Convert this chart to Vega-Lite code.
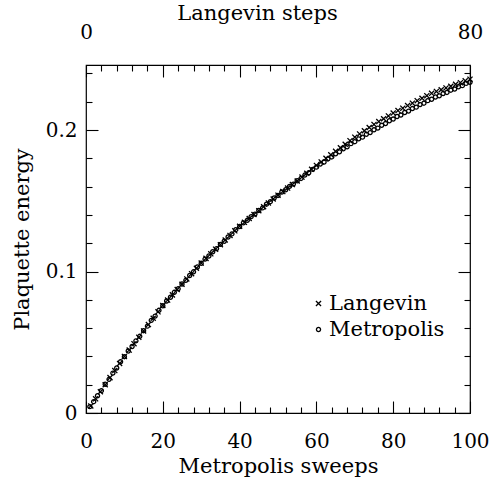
{
  "$schema": "https://vega.github.io/schema/vega-lite/v6.json",
  "width": 384,
  "height": 348,
  "autosize": "none",
  "padding": {"left": 86, "top": 65, "right": 20, "bottom": 67},
  "background": "white",
  "config": {
    "view": {"stroke": "black", "strokeWidth": 1.2},
    "axis": {
      "grid": false,
      "domain": false,
      "ticks": true,
      "tickColor": "black",
      "tickWidth": 1.1,
      "labelColor": "black",
      "labelFont": "DejaVu Serif",
      "labelFontSize": 20,
      "labelFlush": false,
      "labelOverlap": false,
      "labelBound": false,
      "titleColor": "black",
      "titleFont": "DejaVu Serif",
      "titleFontSize": 21,
      "titleFontWeight": "normal",
      "titleBaseline": "middle",
      "titleAlign": "center"
    },
    "legend": {
      "labelFont": "DejaVu Serif",
      "labelFontSize": 21,
      "labelColor": "black"
    }
  },
  "datasets": {
    "pts": [
      {"series": "Metropolis", "sweeps": 1, "energy": 0.0045},
      {"series": "Metropolis", "sweeps": 2, "energy": 0.0080},
      {"series": "Metropolis", "sweeps": 3, "energy": 0.0122},
      {"series": "Metropolis", "sweeps": 4, "energy": 0.0158},
      {"series": "Metropolis", "sweeps": 5, "energy": 0.0203},
      {"series": "Metropolis", "sweeps": 6, "energy": 0.0238},
      {"series": "Metropolis", "sweeps": 7, "energy": 0.0282},
      {"series": "Metropolis", "sweeps": 8, "energy": 0.0318},
      {"series": "Metropolis", "sweeps": 9, "energy": 0.0362},
      {"series": "Metropolis", "sweeps": 10, "energy": 0.0398},
      {"series": "Metropolis", "sweeps": 11, "energy": 0.0438},
      {"series": "Metropolis", "sweeps": 12, "energy": 0.0470},
      {"series": "Metropolis", "sweeps": 13, "energy": 0.0510},
      {"series": "Metropolis", "sweeps": 14, "energy": 0.0542},
      {"series": "Metropolis", "sweeps": 15, "energy": 0.0582},
      {"series": "Metropolis", "sweeps": 16, "energy": 0.0614},
      {"series": "Metropolis", "sweeps": 17, "energy": 0.0655},
      {"series": "Metropolis", "sweeps": 18, "energy": 0.0685},
      {"series": "Metropolis", "sweeps": 19, "energy": 0.0726},
      {"series": "Metropolis", "sweeps": 20, "energy": 0.0758},
      {"series": "Metropolis", "sweeps": 21, "energy": 0.0792},
      {"series": "Metropolis", "sweeps": 22, "energy": 0.0818},
      {"series": "Metropolis", "sweeps": 23, "energy": 0.0853},
      {"series": "Metropolis", "sweeps": 24, "energy": 0.0878},
      {"series": "Metropolis", "sweeps": 25, "energy": 0.0912},
      {"series": "Metropolis", "sweeps": 26, "energy": 0.0938},
      {"series": "Metropolis", "sweeps": 27, "energy": 0.0972},
      {"series": "Metropolis", "sweeps": 28, "energy": 0.0998},
      {"series": "Metropolis", "sweeps": 29, "energy": 0.1032},
      {"series": "Metropolis", "sweeps": 30, "energy": 0.1058},
      {"series": "Metropolis", "sweeps": 31, "energy": 0.1088},
      {"series": "Metropolis", "sweeps": 32, "energy": 0.1110},
      {"series": "Metropolis", "sweeps": 33, "energy": 0.1140},
      {"series": "Metropolis", "sweeps": 34, "energy": 0.1162},
      {"series": "Metropolis", "sweeps": 35, "energy": 0.1192},
      {"series": "Metropolis", "sweeps": 36, "energy": 0.1214},
      {"series": "Metropolis", "sweeps": 37, "energy": 0.1244},
      {"series": "Metropolis", "sweeps": 38, "energy": 0.1266},
      {"series": "Metropolis", "sweeps": 39, "energy": 0.1296},
      {"series": "Metropolis", "sweeps": 40, "energy": 0.1318},
      {"series": "Metropolis", "sweeps": 41, "energy": 0.1344},
      {"series": "Metropolis", "sweeps": 42, "energy": 0.1362},
      {"series": "Metropolis", "sweeps": 43, "energy": 0.1388},
      {"series": "Metropolis", "sweeps": 44, "energy": 0.1406},
      {"series": "Metropolis", "sweeps": 45, "energy": 0.1432},
      {"series": "Metropolis", "sweeps": 46, "energy": 0.1450},
      {"series": "Metropolis", "sweeps": 47, "energy": 0.1476},
      {"series": "Metropolis", "sweeps": 48, "energy": 0.1494},
      {"series": "Metropolis", "sweeps": 49, "energy": 0.1520},
      {"series": "Metropolis", "sweeps": 50, "energy": 0.1538},
      {"series": "Metropolis", "sweeps": 51, "energy": 0.1562},
      {"series": "Metropolis", "sweeps": 52, "energy": 0.1578},
      {"series": "Metropolis", "sweeps": 53, "energy": 0.1602},
      {"series": "Metropolis", "sweeps": 54, "energy": 0.1618},
      {"series": "Metropolis", "sweeps": 55, "energy": 0.1642},
      {"series": "Metropolis", "sweeps": 56, "energy": 0.1658},
      {"series": "Metropolis", "sweeps": 57, "energy": 0.1682},
      {"series": "Metropolis", "sweeps": 58, "energy": 0.1698},
      {"series": "Metropolis", "sweeps": 59, "energy": 0.1722},
      {"series": "Metropolis", "sweeps": 60, "energy": 0.1738},
      {"series": "Metropolis", "sweeps": 61, "energy": 0.1760},
      {"series": "Metropolis", "sweeps": 62, "energy": 0.1774},
      {"series": "Metropolis", "sweeps": 63, "energy": 0.1796},
      {"series": "Metropolis", "sweeps": 64, "energy": 0.1810},
      {"series": "Metropolis", "sweeps": 65, "energy": 0.1832},
      {"series": "Metropolis", "sweeps": 66, "energy": 0.1846},
      {"series": "Metropolis", "sweeps": 67, "energy": 0.1868},
      {"series": "Metropolis", "sweeps": 68, "energy": 0.1882},
      {"series": "Metropolis", "sweeps": 69, "energy": 0.1904},
      {"series": "Metropolis", "sweeps": 70, "energy": 0.1918},
      {"series": "Metropolis", "sweeps": 71, "energy": 0.1938},
      {"series": "Metropolis", "sweeps": 72, "energy": 0.1950},
      {"series": "Metropolis", "sweeps": 73, "energy": 0.1970},
      {"series": "Metropolis", "sweeps": 74, "energy": 0.1982},
      {"series": "Metropolis", "sweeps": 75, "energy": 0.2002},
      {"series": "Metropolis", "sweeps": 76, "energy": 0.2014},
      {"series": "Metropolis", "sweeps": 77, "energy": 0.2034},
      {"series": "Metropolis", "sweeps": 78, "energy": 0.2046},
      {"series": "Metropolis", "sweeps": 79, "energy": 0.2066},
      {"series": "Metropolis", "sweeps": 80, "energy": 0.2078},
      {"series": "Metropolis", "sweeps": 81, "energy": 0.2096},
      {"series": "Metropolis", "sweeps": 82, "energy": 0.2106},
      {"series": "Metropolis", "sweeps": 83, "energy": 0.2124},
      {"series": "Metropolis", "sweeps": 84, "energy": 0.2134},
      {"series": "Metropolis", "sweeps": 85, "energy": 0.2152},
      {"series": "Metropolis", "sweeps": 86, "energy": 0.2162},
      {"series": "Metropolis", "sweeps": 87, "energy": 0.2180},
      {"series": "Metropolis", "sweeps": 88, "energy": 0.2190},
      {"series": "Metropolis", "sweeps": 89, "energy": 0.2208},
      {"series": "Metropolis", "sweeps": 90, "energy": 0.2218},
      {"series": "Metropolis", "sweeps": 91, "energy": 0.2234},
      {"series": "Metropolis", "sweeps": 92, "energy": 0.2242},
      {"series": "Metropolis", "sweeps": 93, "energy": 0.2258},
      {"series": "Metropolis", "sweeps": 94, "energy": 0.2266},
      {"series": "Metropolis", "sweeps": 95, "energy": 0.2282},
      {"series": "Metropolis", "sweeps": 96, "energy": 0.2290},
      {"series": "Metropolis", "sweeps": 97, "energy": 0.2306},
      {"series": "Metropolis", "sweeps": 98, "energy": 0.2314},
      {"series": "Metropolis", "sweeps": 99, "energy": 0.2330},
      {"series": "Metropolis", "sweeps": 100, "energy": 0.2338},
      {"series": "Langevin", "sweeps": 1.25, "energy": 0.0050},
      {"series": "Langevin", "sweeps": 2.5, "energy": 0.0100},
      {"series": "Langevin", "sweeps": 3.75, "energy": 0.0150},
      {"series": "Langevin", "sweeps": 5, "energy": 0.0200},
      {"series": "Langevin", "sweeps": 6.25, "energy": 0.0250},
      {"series": "Langevin", "sweeps": 7.5, "energy": 0.0300},
      {"series": "Langevin", "sweeps": 8.75, "energy": 0.0350},
      {"series": "Langevin", "sweeps": 10, "energy": 0.0400},
      {"series": "Langevin", "sweeps": 11.25, "energy": 0.0445},
      {"series": "Langevin", "sweeps": 12.5, "energy": 0.0490},
      {"series": "Langevin", "sweeps": 13.75, "energy": 0.0535},
      {"series": "Langevin", "sweeps": 15, "energy": 0.0580},
      {"series": "Langevin", "sweeps": 16.25, "energy": 0.0625},
      {"series": "Langevin", "sweeps": 17.5, "energy": 0.0670},
      {"series": "Langevin", "sweeps": 18.75, "energy": 0.0715},
      {"series": "Langevin", "sweeps": 20, "energy": 0.0760},
      {"series": "Langevin", "sweeps": 21.25, "energy": 0.0798},
      {"series": "Langevin", "sweeps": 22.5, "energy": 0.0835},
      {"series": "Langevin", "sweeps": 23.75, "energy": 0.0873},
      {"series": "Langevin", "sweeps": 25, "energy": 0.0910},
      {"series": "Langevin", "sweeps": 26.25, "energy": 0.0948},
      {"series": "Langevin", "sweeps": 27.5, "energy": 0.0985},
      {"series": "Langevin", "sweeps": 28.75, "energy": 0.1023},
      {"series": "Langevin", "sweeps": 30, "energy": 0.1060},
      {"series": "Langevin", "sweeps": 31.25, "energy": 0.1093},
      {"series": "Langevin", "sweeps": 32.5, "energy": 0.1125},
      {"series": "Langevin", "sweeps": 33.75, "energy": 0.1158},
      {"series": "Langevin", "sweeps": 35, "energy": 0.1190},
      {"series": "Langevin", "sweeps": 36.25, "energy": 0.1223},
      {"series": "Langevin", "sweeps": 37.5, "energy": 0.1255},
      {"series": "Langevin", "sweeps": 38.75, "energy": 0.1288},
      {"series": "Langevin", "sweeps": 40, "energy": 0.1320},
      {"series": "Langevin", "sweeps": 41.25, "energy": 0.1348},
      {"series": "Langevin", "sweeps": 42.5, "energy": 0.1375},
      {"series": "Langevin", "sweeps": 43.75, "energy": 0.1403},
      {"series": "Langevin", "sweeps": 45, "energy": 0.1430},
      {"series": "Langevin", "sweeps": 46.25, "energy": 0.1458},
      {"series": "Langevin", "sweeps": 47.5, "energy": 0.1485},
      {"series": "Langevin", "sweeps": 48.75, "energy": 0.1513},
      {"series": "Langevin", "sweeps": 50, "energy": 0.1540},
      {"series": "Langevin", "sweeps": 51.25, "energy": 0.1565},
      {"series": "Langevin", "sweeps": 52.5, "energy": 0.1590},
      {"series": "Langevin", "sweeps": 53.75, "energy": 0.1615},
      {"series": "Langevin", "sweeps": 55, "energy": 0.1640},
      {"series": "Langevin", "sweeps": 56.25, "energy": 0.1668},
      {"series": "Langevin", "sweeps": 57.5, "energy": 0.1695},
      {"series": "Langevin", "sweeps": 58.75, "energy": 0.1723},
      {"series": "Langevin", "sweeps": 60, "energy": 0.1750},
      {"series": "Langevin", "sweeps": 61.25, "energy": 0.1775},
      {"series": "Langevin", "sweeps": 62.5, "energy": 0.1800},
      {"series": "Langevin", "sweeps": 63.75, "energy": 0.1825},
      {"series": "Langevin", "sweeps": 65, "energy": 0.1850},
      {"series": "Langevin", "sweeps": 66.25, "energy": 0.1875},
      {"series": "Langevin", "sweeps": 67.5, "energy": 0.1900},
      {"series": "Langevin", "sweeps": 68.75, "energy": 0.1925},
      {"series": "Langevin", "sweeps": 70, "energy": 0.1950},
      {"series": "Langevin", "sweeps": 71.25, "energy": 0.1973},
      {"series": "Langevin", "sweeps": 72.5, "energy": 0.1995},
      {"series": "Langevin", "sweeps": 73.75, "energy": 0.2018},
      {"series": "Langevin", "sweeps": 75, "energy": 0.2040},
      {"series": "Langevin", "sweeps": 76.25, "energy": 0.2060},
      {"series": "Langevin", "sweeps": 77.5, "energy": 0.2080},
      {"series": "Langevin", "sweeps": 78.75, "energy": 0.2100},
      {"series": "Langevin", "sweeps": 80, "energy": 0.2120},
      {"series": "Langevin", "sweeps": 81.25, "energy": 0.2138},
      {"series": "Langevin", "sweeps": 82.5, "energy": 0.2155},
      {"series": "Langevin", "sweeps": 83.75, "energy": 0.2173},
      {"series": "Langevin", "sweeps": 85, "energy": 0.2190},
      {"series": "Langevin", "sweeps": 86.25, "energy": 0.2208},
      {"series": "Langevin", "sweeps": 87.5, "energy": 0.2225},
      {"series": "Langevin", "sweeps": 88.75, "energy": 0.2243},
      {"series": "Langevin", "sweeps": 90, "energy": 0.2260},
      {"series": "Langevin", "sweeps": 91.25, "energy": 0.2273},
      {"series": "Langevin", "sweeps": 92.5, "energy": 0.2285},
      {"series": "Langevin", "sweeps": 93.75, "energy": 0.2298},
      {"series": "Langevin", "sweeps": 95, "energy": 0.2310},
      {"series": "Langevin", "sweeps": 96.25, "energy": 0.2323},
      {"series": "Langevin", "sweeps": 97.5, "energy": 0.2335},
      {"series": "Langevin", "sweeps": 98.75, "energy": 0.2348},
      {"series": "Langevin", "sweeps": 100, "energy": 0.2360}
    ]
  },
  "data": {"name": "pts"},
  "layer": [
    {
      "mark": {"type": "point", "filled": false, "color": "black", "strokeWidth": 1.3, "opacity": 1},
      "encoding": {
        "x": {
          "field": "sweeps",
          "type": "quantitative",
          "scale": {"domain": [0, 100], "nice": false, "zero": false},
          "axis": {
            "orient": "bottom",
            "title": "Metropolis sweeps",
            "values": [0, 20, 40, 60, 80, 100],
            "offset": -12,
            "tickSize": 12,
            "labelPadding": 18,
            "titleX": 192,
            "titleY": 65
          }
        },
        "y": {
          "field": "energy",
          "type": "quantitative",
          "scale": {"domain": [0, 0.246], "nice": false, "zero": false},
          "axis": {
            "orient": "left",
            "title": "Plaquette energy",
            "values": [0, 0.1, 0.2],
            "labelExpr": "datum.value === 0 ? '0' : datum.value === 0.1 ? '0.1' : '0.2'",
            "offset": -12,
            "tickSize": 12,
            "labelPadding": 9,
            "titleX": -76,
            "titleY": 174
          }
        },
        "shape": {
          "field": "series",
          "type": "nominal",
          "scale": {"domain": ["Langevin", "Metropolis"], "range": ["M-1,-1L1,1M-1,1L1,-1", "circle"]},
          "legend": {
            "title": null,
            "orient": "none",
            "legendX": 222,
            "legendY": 228,
            "padding": 0,
            "rowPadding": 4,
            "labelOffset": 0,
            "symbolStrokeColor": "black",
            "symbolStrokeWidth": 1.3,
            "symbolFillColor": "transparent"
          }
        },
        "size": {
          "field": "series",
          "type": "nominal",
          "scale": {"domain": ["Langevin", "Metropolis"], "range": [26, 17]}
        }
      }
    },
    {
      "mark": {"type": "point", "opacity": 0},
      "encoding": {
        "x": {
          "field": "sweeps",
          "type": "quantitative",
          "axis": {
            "orient": "bottom",
            "title": null,
            "labels": false,
            "values": [4, 8, 12, 16, 24, 28, 32, 36, 44, 48, 52, 56, 64, 68, 72, 76, 84, 88, 92, 96],
            "offset": -6,
            "tickSize": 6
          }
        },
        "y": {
          "field": "energy",
          "type": "quantitative",
          "axis": {
            "orient": "left",
            "title": null,
            "labels": false,
            "values": [0.02, 0.04, 0.06, 0.08, 0.12, 0.14, 0.16, 0.18, 0.22, 0.24],
            "offset": -6,
            "tickSize": 6
          }
        }
      }
    },
    {
      "mark": {"type": "point", "opacity": 0},
      "encoding": {
        "x": {
          "field": "sweeps",
          "type": "quantitative",
          "axis": {
            "orient": "top",
            "title": "Langevin steps",
            "values": [0, 20, 40, 60, 80, 100],
            "labelExpr": "datum.value === 0 ? '0' : datum.value === 100 ? '80' : ''",
            "offset": -12,
            "tickSize": 12,
            "labelPadding": 23,
            "titleX": 171,
            "titleY": -64
          }
        },
        "y": {
          "field": "energy",
          "type": "quantitative",
          "axis": {
            "orient": "right",
            "title": null,
            "labels": false,
            "values": [0, 0.1, 0.2],
            "offset": -12,
            "tickSize": 12
          }
        }
      }
    },
    {
      "mark": {"type": "point", "opacity": 0},
      "encoding": {
        "x": {
          "field": "sweeps",
          "type": "quantitative",
          "axis": {
            "orient": "top",
            "title": null,
            "labels": false,
            "values": [4, 8, 12, 16, 24, 28, 32, 36, 44, 48, 52, 56, 64, 68, 72, 76, 84, 88, 92, 96],
            "offset": -6,
            "tickSize": 6
          }
        },
        "y": {
          "field": "energy",
          "type": "quantitative",
          "axis": {
            "orient": "right",
            "title": null,
            "labels": false,
            "values": [0.02, 0.04, 0.06, 0.08, 0.12, 0.14, 0.16, 0.18, 0.22, 0.24],
            "offset": -6,
            "tickSize": 6
          }
        }
      }
    }
  ],
  "resolve": {"axis": {"x": "independent", "y": "independent"}}
}
